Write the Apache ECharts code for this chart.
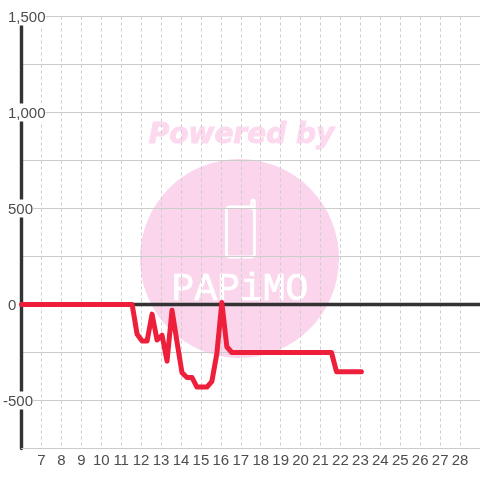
<!DOCTYPE html>
<html>
<head>
<meta charset="utf-8">
<style>html,body{margin:0;padding:0;background:#fff}#c{width:480px;height:480px}</style>
<script src="https://cdn.jsdelivr.net/npm/echarts@6/dist/echarts.min.js"></script>
</head>
<body>
<div id="c"></div>
<script>
var hours = [6, 11.55, 11.8, 12.05, 12.3, 12.55, 12.8, 13.05, 13.3, 13.55, 13.8, 14.05, 14.3, 14.55, 14.8, 15.05, 15.3, 15.55, 15.8, 16.05, 16.3, 16.55, 21.55, 21.8, 23.05];
var values = [0, 0, -155, -190, -190, -50, -185, -160, -295, -30, -195, -355, -380, -380, -430, -430, -430, -400, -255, 10, -220, -250, -250, -350, -350];
var yLabels = {'1500': '1,500', '1000': '1,000', '500': '500', '0': '0', '-500': '-500'};
var inkLabel = '#4d4d4d';
var chart = echarts.init(document.getElementById('c'), null, {renderer: 'canvas'});
chart.setOption({
  animation: false,
  backgroundColor: '#fff',
  grid: {left: 20.5, right: -0.5, top: 16.5, bottom: 31.5},
  graphic: {elements: [
    {type: 'circle', z: -10, silent: true, shape: {cx: 239.5, cy: 258.5, r: 99.5}, style: {fill: '#fbd5ec'}},
    {type: 'text', z: -10, silent: true, x: 241.5, y: 136, style: {text: 'Powered by', font: 'italic bold 28px "DejaVu Sans"', fill: '#fcd9ef', stroke: '#fcd9ef', lineWidth: 1, align: 'center', verticalAlign: 'middle'}},
    {type: 'rect', z: -9, silent: true, shape: {x: 226.5, y: 207, width: 28, height: 50, r: 3}, style: {fill: 'none', stroke: '#fff', lineWidth: 2.8}},
    {type: 'rect', z: -9, silent: true, shape: {x: 251.5, y: 200, width: 3, height: 9, r: 1.5}, style: {fill: 'none', stroke: '#fff', lineWidth: 2.4}},
    {type: 'text', z: -9, silent: true, x: 240, y: 290, style: {text: 'PAPiMO', font: '38px "Liberation Mono"', fill: '#fff', stroke: '#fff', lineWidth: 0.7, align: 'center', verticalAlign: 'middle'}}
  ]},
  xAxis: [{
    type: 'value', min: 6, max: 29, interval: 1, position: 'bottom',
    axisLine: {show: true, onZero: false, lineStyle: {color: '#ccc', width: 1}},
    axisTick: {show: false},
    axisLabel: {color: inkLabel, fontFamily: 'Liberation Sans', fontSize: 15, margin: 5, showMinLabel: false, showMaxLabel: false},
    splitLine: {show: true, lineStyle: {color: '#ccc', width: 1, type: [3, 3]}}
  }, {
    type: 'value', min: 6, max: 29, interval: 1, position: 'top',
    axisLine: {show: true, onZero: true, lineStyle: {color: '#333', width: 3.4}},
    axisTick: {show: false}, axisLabel: {show: false}, splitLine: {show: false}
  }],
  yAxis: {
    type: 'value', min: -750, max: 1500, interval: 250,
    axisLine: {show: true, onZero: false, lineStyle: {color: '#333', width: 3.4}},
    axisTick: {show: false},
    splitLine: {show: true, lineStyle: {color: '#ccc', width: 1}},
    axisLabel: {
      align: 'left', margin: 18.5, showMinLabel: true, showMaxLabel: true,
      formatter: function (v) {
        var t = yLabels[String(v)];
        if (!t) return '';
        return v < 0 ? '{a|' + t + '}' : '{sp| }{a|' + t + '}';
      },
      rich: {
        a: {color: inkLabel, fontFamily: 'Liberation Sans', fontSize: 15, backgroundColor: '#fff', lineHeight: 16, height: 16, padding: [2, 0, 0, 0]},
        sp: {width: 5, fontSize: 15, lineHeight: 16, height: 16}
      }
    }
  },
  series: [{
    type: 'line', xAxisIndex: 0, yAxisIndex: 0, showSymbol: false, symbol: 'none', clip: false,
    data: hours.map(function (h, i) { return [h, values[i]]; }),
    lineStyle: {color: '#ee1f3b', width: 5, cap: 'round', join: 'round'}
  }]
});
</script>
</body>
</html>
